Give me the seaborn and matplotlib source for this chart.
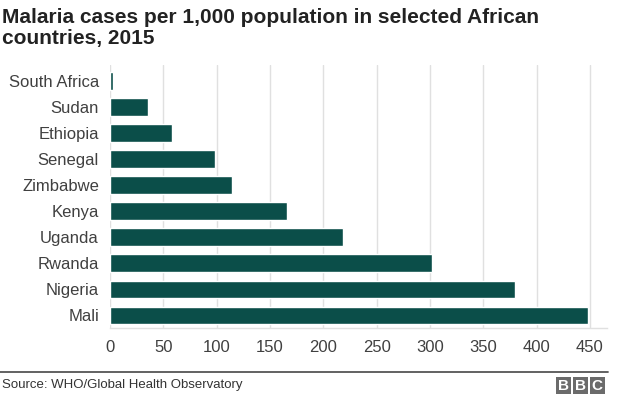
import matplotlib
matplotlib.use("Agg")
import matplotlib.pyplot as plt
import seaborn as sns
import pandas as pd

countries = ["South Africa", "Sudan", "Ethiopia", "Senegal", "Zimbabwe",
             "Kenya", "Uganda", "Rwanda", "Nigeria", "Mali"]
cases = [2.5, 36, 58, 98, 114, 166, 218, 302, 380, 448]
xticks = [0, 50, 100, 150, 200, 250, 300, 350, 400, 450]

df = pd.DataFrame({"country": countries, "cases": cases})

sns.set_theme(style="white")
plt.rcParams["font.family"] = ["Liberation Sans", "DejaVu Sans"]

fig = plt.figure(figsize=(6.4, 3.98), dpi=100)
ax = fig.add_axes([110/640, 1-328/398, (607-110)/640, (328-65)/398])

sns.barplot(data=df, y="country", x="cases", orient="h", color="#0b4e49",
            width=0.68, saturation=1, ax=ax, zorder=3)

ax.set_xlim(0, 466)
ax.set_ylim(9.48, -0.61)
ax.set_xticks(xticks)
ax.set_xticklabels([str(t) for t in xticks])
ax.xaxis.grid(True, color="#e0e0e0", linewidth=1, zorder=0)
ax.yaxis.grid(False)
ax.set_xlabel("")
ax.set_ylabel("")
for s in ["top", "right", "left"]:
    ax.spines[s].set_visible(False)
ax.spines["bottom"].set_color("#e0e0e0")
ax.spines["bottom"].set_linewidth(1)
ax.tick_params(axis="x", length=7.5, color="#e0e0e0", width=1, pad=1.5,
               labelsize=12, labelcolor="#404040")
ax.tick_params(axis="y", length=0, pad=8, labelsize=12, labelcolor="#404040")

fig.text(2/640, 1-8/398,
         "Malaria cases per 1,000 population in selected African\ncountries, 2015",
         ha="left", va="top", fontsize=15, fontweight="bold", color="#222222",
         linespacing=1.15)

fig.add_artist(plt.Line2D([0, 608/640], [1-372/398, 1-372/398],
                          color="#555555", linewidth=1.3))
fig.text(2/640, 1-385/398, "Source: WHO/Global Health Observatory",
         ha="left", va="center", fontsize=9.5, color="#333333")

for i, letter in enumerate("BBC"):
    x0 = 556 + i * 17
    fig.patches.append(plt.Rectangle((x0/640, 1-394/398), 14.5/640, 17/398,
                                     transform=fig.transFigure,
                                     facecolor="#6b6b6b", edgecolor="none",
                                     zorder=5))
    fig.text((x0 + 7.25)/640, 1-385.5/398, letter, ha="center", va="center",
             fontsize=11, fontweight="bold", color="white", zorder=6)

fig.savefig("out.png", dpi=100)
